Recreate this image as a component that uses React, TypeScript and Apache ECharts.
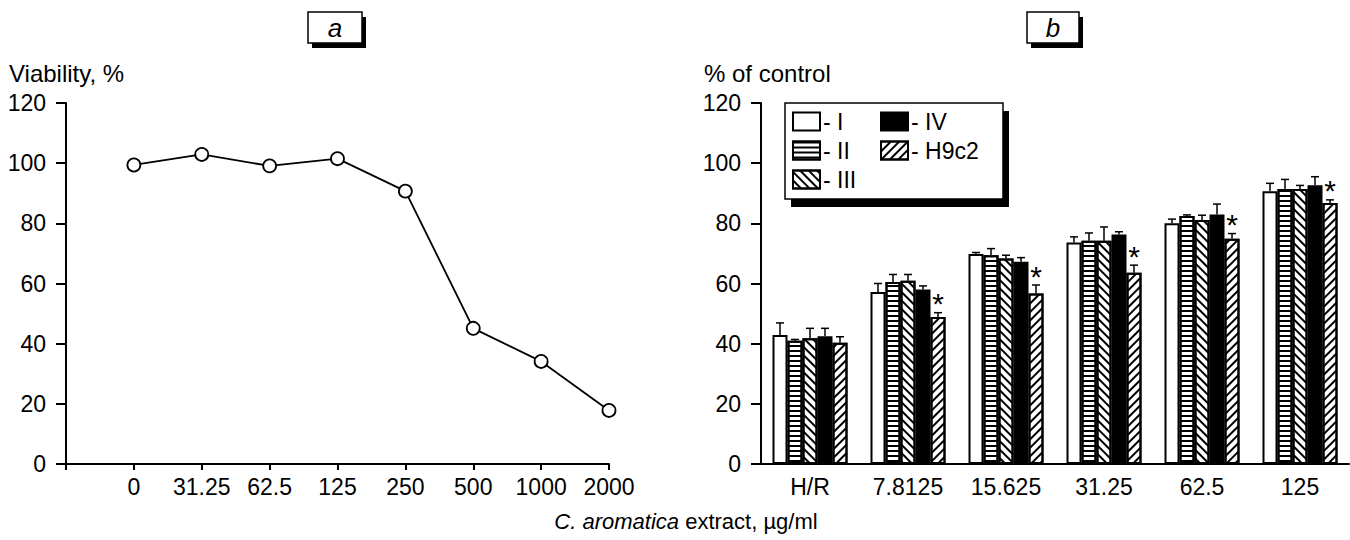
import React, { useEffect, useRef } from "react";
import * as echarts from "echarts";

// ---- Panel a data ----
const concLabels = ["0", "31.25", "62.5", "125", "250", "500", "1000", "2000"];
const viability = [99.4, 102.9, 99.1, 101.5, 90.7, 45.1, 34.1, 17.8];

// ---- Panel b data ----
const groupLabels = ["H/R", "7.8125", "15.625", "31.25", "62.5", "125"];
const seriesNames = ["I", "II", "III", "IV", "H9c2"];
const valI = [42.9, 57.2, 69.8, 73.6, 80.0, 90.7];
const valII = [41.0, 60.5, 69.4, 74.2, 82.4, 91.4];
const valIII = [41.8, 60.9, 68.3, 74.2, 81.1, 91.4];
const valIV = [42.5, 58.0, 67.2, 76.3, 82.9, 92.7];
const valH9c2 = [40.3, 48.9, 56.7, 63.6, 74.9, 86.8];
const errI = [4.0, 2.8, 0.5, 1.9, 1.4, 2.6];
const errII = [0.4, 2.5, 2.2, 2.6, 0.4, 3.2];
const errIII = [3.3, 2.1, 1.1, 4.6, 1.6, 1.2];
const errIV = [2.6, 1.2, 1.4, 0.9, 3.5, 2.8];
const errH9c2 = [2.0, 1.4, 2.8, 2.5, 1.7, 1.0];
const starH9c2 = [0, 1, 1, 1, 1, 1];

const yTicks = { min: 0, max: 120, interval: 20 };

const FONT = "'Liberation Sans', Arial, Helvetica, sans-serif";

export default function App() {
  const ref = useRef<HTMLDivElement>(null);

  useEffect(() => {
    if (!ref.current) return;
    const chart = echarts.init(ref.current, undefined, { renderer: "svg" });

    const values = [valI, valII, valIII, valIV, valH9c2];
    const errs = [errI, errII, errIII, errIV, errH9c2];
    const stars = [null, null, null, null, starH9c2];
    const BAR_W = 15;

    const stripe = (rotation: number, dy: number[]) => ({
      symbol: "rect",
      symbolSize: 1,
      dashArrayX: [1, 0],
      dashArrayY: dy,
      rotation,
      color: "#000",
    });

    const styles: any[] = [
      { color: "#fff", borderColor: "#000", borderWidth: 2 },
      { color: "#fff", borderColor: "#000", borderWidth: 2, decal: stripe(0, [1.4, 3]) },
      { color: "#fff", borderColor: "#000", borderWidth: 2, decal: stripe(Math.PI / 4, [1.4, 3.6]) },
      { color: "#000", borderColor: "#000", borderWidth: 2 },
      { color: "#fff", borderColor: "#000", borderWidth: 2, decal: stripe(-Math.PI / 4, [1.4, 3.6]) },
    ];

    const barSeries = seriesNames.map((name, k) => ({
      type: "bar",
      name,
      xAxisIndex: 1,
      yAxisIndex: 1,
      data: values[k],
      barWidth: BAR_W,
      barGap: "0%",
      itemStyle: styles[k],
      emphasis: { disabled: true },
    }));

    const errSeries = seriesNames.map((name, k) => ({
      type: "custom",
      name: "err-" + name,
      xAxisIndex: 1,
      yAxisIndex: 1,
      silent: true,
      z: 5,
      data: groupLabels.map((_, i) => [i, values[k][i], errs[k][i], stars[k] ? stars[k]![i] : 0]),
      renderItem: (params: any, api: any) => {
        const i = api.value(0);
        const v = api.value(1);
        const e = api.value(2);
        const s = api.value(3);
        const base = api.coord([i, v]);
        const top = api.coord([i, v + e]);
        const x = base[0] + (k - 2) * BAR_W;
        const children: any[] = [
          {
            type: "line",
            shape: { x1: x, y1: base[1], x2: x, y2: top[1] },
            style: { stroke: "#000", lineWidth: 1.5 },
          },
          {
            type: "line",
            shape: { x1: x - 4, y1: top[1], x2: x + 4, y2: top[1] },
            style: { stroke: "#000", lineWidth: 1.5 },
          },
        ];
        if (s) {
          children.push({
            type: "text",
            x: x,
            y: top[1] - 9,
            style: {
              text: "*",
              fontSize: 30,
              fontFamily: FONT,
              fill: "#000",
              align: "center",
              verticalAlign: "middle",
            },
          });
        }
        return { type: "group", children };
      },
    }));

    const axisLabel = { color: "#000", fontSize: 23, fontFamily: FONT };
    const axisLine = { show: true, lineStyle: { color: "#000", width: 2 } };

    const legendCommon = {
      orient: "vertical",
      top: 110,
      padding: 0,
      itemGap: 6,
      itemWidth: 27,
      itemHeight: 18,
      icon: "rect",
      selectedMode: false,
      formatter: "- {name}",
      textStyle: { color: "#000", fontSize: 23, fontFamily: FONT, lineHeight: 22, padding: [0, 0, 0, -2] },
      z: 10,
    };

    const option: any = {
      animation: false,
      backgroundColor: "#fff",
      textStyle: { fontFamily: FONT },
      grid: [
        { left: 66, right: 1350 - 609, top: 103, bottom: 540 - 464, containLabel: false },
        { left: 761, right: 1, top: 103, bottom: 540 - 464, containLabel: false },
      ],
      xAxis: [
        {
          type: "category",
          gridIndex: 0,
          data: ["", ...concLabels],
          boundaryGap: false,
          axisLine,
          axisTick: { show: true, length: 6, lineStyle: { color: "#000", width: 2 }, interval: 0 },
          axisLabel: { ...axisLabel, margin: 11, interval: 0 },
          splitLine: { show: false },
        },
        {
          type: "category",
          gridIndex: 1,
          data: groupLabels,
          axisLine,
          axisTick: { show: false },
          axisLabel: { ...axisLabel, margin: 11, interval: 0 },
          splitLine: { show: false },
        },
      ],
      yAxis: [0, 1].map((g) => ({
        type: "value",
        gridIndex: g,
        min: yTicks.min,
        max: yTicks.max,
        interval: yTicks.interval,
        axisLine,
        axisTick: { show: true, length: 10, lineStyle: { color: "#000", width: 2 } },
        axisLabel: { ...axisLabel, margin: 20 },
        splitLine: { show: false },
      })),
      legend: [
        { ...legendCommon, data: ["I", "II", "III"], left: 792 },
        { ...legendCommon, data: ["IV", "H9c2"], left: 880 },
      ],
      graphic: [
        // panel label a
        { type: "rect", z: 1, shape: { x: 312, y: 17, width: 54, height: 31 }, style: { fill: "#000" } },
        { type: "rect", z: 2, shape: { x: 308, y: 12, width: 54, height: 31 }, style: { fill: "#fff", stroke: "#000", lineWidth: 1.5 } },
        { type: "text", z: 3, x: 335, y: 28, style: { text: "a", fontSize: 26, fontStyle: "italic", fontFamily: FONT, fill: "#000", align: "center", verticalAlign: "middle" } },
        // panel label b
        { type: "rect", z: 1, shape: { x: 1031, y: 17, width: 52, height: 31 }, style: { fill: "#000" } },
        { type: "rect", z: 2, shape: { x: 1027, y: 12, width: 52, height: 31 }, style: { fill: "#fff", stroke: "#000", lineWidth: 1.5 } },
        { type: "text", z: 3, x: 1053, y: 28, style: { text: "b", fontSize: 26, fontStyle: "italic", fontFamily: FONT, fill: "#000", align: "center", verticalAlign: "middle" } },
        // axis titles
        { type: "text", x: 9, y: 73, style: { text: "Viability, %", fontSize: 24, fontFamily: FONT, fill: "#000", align: "left", verticalAlign: "middle" } },
        { type: "text", x: 704, y: 73, style: { text: "% of control", fontSize: 24, fontFamily: FONT, fill: "#000", align: "left", verticalAlign: "middle" } },
        {
          type: "text",
          x: 686,
          y: 521,
          style: {
            text: "{i|C. aromatica} extract, µg/ml",
            fontSize: 22,
            fontFamily: FONT,
            fill: "#000",
            align: "center",
            verticalAlign: "middle",
            rich: { i: { fontStyle: "italic", fontSize: 22, fontFamily: FONT, fill: "#000" } },
          },
        },
        // legend box
        { type: "rect", z: 1, shape: { x: 791, y: 111, width: 218, height: 96 }, style: { fill: "#000" } },
        { type: "rect", z: 2, shape: { x: 785, y: 103, width: 218, height: 96 }, style: { fill: "#fff", stroke: "#000", lineWidth: 1.5 } },
      ],
      series: [
        {
          type: "line",
          xAxisIndex: 0,
          yAxisIndex: 0,
          data: [null, ...viability],
          symbol: "circle",
          symbolSize: 13,
          lineStyle: { color: "#000", width: 1.8 },
          itemStyle: { color: "#fff", borderColor: "#000", borderWidth: 1.8 },
          emphasis: { disabled: true },
          z: 3,
        },
        ...barSeries,
        ...errSeries,
      ],
    };

    chart.setOption(option);
    return () => chart.dispose();
  }, []);

  return (
    <div
      ref={ref}
      style={{ position: "absolute", left: 0, top: 0, width: 1350, height: 540, background: "#fff" }}
    />
  );
}
